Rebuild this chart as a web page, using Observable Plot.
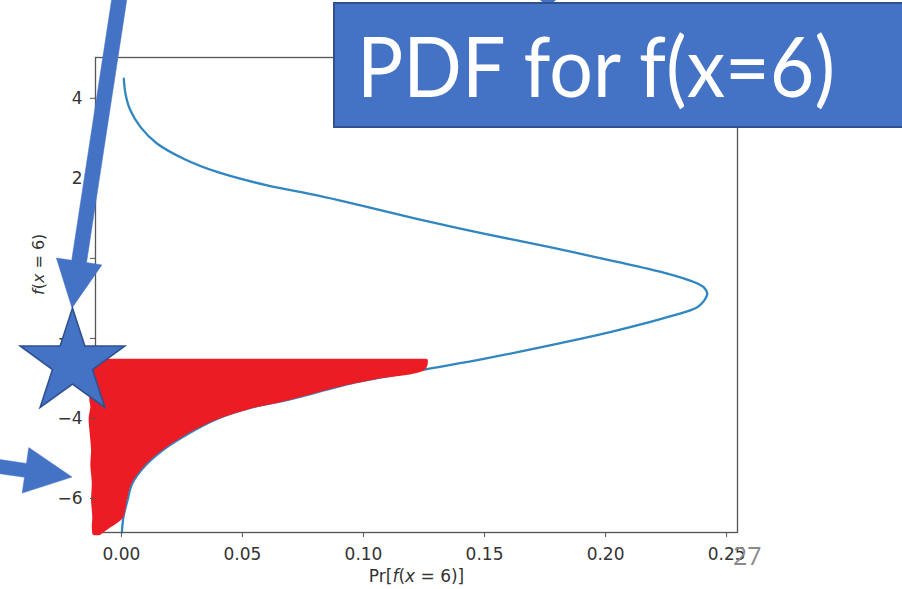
<!DOCTYPE html>
<html><head><meta charset="utf-8">
<script src="https://cdn.jsdelivr.net/npm/d3@7"></script>
<script src="https://cdn.jsdelivr.net/npm/@observablehq/plot@0.6"></script>
<style>
html,body{margin:0;padding:0;background:#fff;}
#wrap{position:relative;width:902px;height:589px;overflow:hidden;}
</style></head><body><div id="wrap"></div>
<script>
// PDF curve: value of f(x=6) and its density
const densityValue = [4.49, 4.11, 3.70, 3.28, 2.87, 2.49, 2.16, 1.825, 1.575, 1.325, 0.99, 0.62, 0.28, -0.09, -0.38, -0.59, -0.72, -0.88, -1.05, -1.22, -1.47, -1.80, -2.175, -2.51, -2.76, -2.97, -3.13, -3.55, -3.725, -4.0, -4.425, -4.8, -5.175, -5.625, -6.05, -6.475, -6.85];
const densityPr = [0.0010, 0.0017, 0.0037, 0.0079, 0.0147, 0.0257, 0.0395, 0.0602, 0.0809, 0.0988, 0.122, 0.1497, 0.177, 0.2048, 0.2255, 0.2365, 0.2405, 0.242, 0.2408, 0.2379, 0.2255, 0.2048, 0.177, 0.1497, 0.1267, 0.108, 0.0946, 0.0678, 0.054, 0.040, 0.0264, 0.0169, 0.0099, 0.0045, 0.0025, 0.0008, 0.0002];

// red sample cloud: its outline (value, left edge, right edge)
const sampleValue = [-2.57, -2.76, -2.97, -3.13, -3.55, -3.725, -4.0, -4.425, -4.8, -5.175, -5.625, -6.05, -6.475, -6.72, -6.88];
const sampleLeft = [-0.0105, -0.0112, -0.0118, -0.0120, -0.0122, -0.0118, -0.0125, -0.0120, -0.0115, -0.0118, -0.0112, -0.0115, -0.0110, -0.0112, -0.0110];
const sampleRight = [0.126, 0.125, 0.106, 0.093, 0.066, 0.053, 0.039, 0.025, 0.0158, 0.0089, 0.0036, 0.0016, 0.0, -0.0055, -0.009];

const xTicks = [0, 0.05, 0.10, 0.15, 0.20, 0.25];
const yTicks = [-6, -4, -2, 0, 2, 4];
const xLabel = "Pr[f(x = 6)]";
const yLabel = "f(x = 6)";
const titleText = "PDF for f(x=6)";
const slideNumber = "27";

// slide annotations (anchored in data units)
const pointerArrows = [
  {from: [-0.0004, 6.57], to: [-0.0202, -1.25], shaft: 15, headWidth: 46, headLength: 47},
  {from: [-0.052, -5.20], to: [-0.0202, -5.476], shaft: 14, headWidth: 46, headLength: 47}
];
const starMarker = {at: [-0.0200, -2.627], outer: 55, inner: 21};

const curve = densityValue.map((v, i) => ({value: v, pr: densityPr[i]}));
const samples = sampleValue.map((v, i) => ({value: v, lo: sampleLeft[i], hi: sampleRight[i]}));

const chart = Plot.plot({
  width: 902, height: 589,
  marginLeft: 95, marginRight: 165, marginTop: 57, marginBottom: 57,
  style: {fontFamily: "'DejaVu Sans', sans-serif", fontSize: "17px", color: "#333", background: "transparent", overflow: "visible"},
  x: {domain: [-0.0107, 0.2545]},
  y: {domain: [-6.85, 5.02]},
  marks: [
    Plot.line(curve, {x: "pr", y: "value", stroke: "#2f86c0", strokeWidth: 2.3, curve: "catmull-rom"}),
    Plot.frame({stroke: "#555", strokeWidth: 1.3}),
    Plot.areaX(samples, {y: "value", x1: "lo", x2: "hi", fill: "#ec1c24", stroke: "#ec1c24", strokeWidth: 4, strokeLinejoin: "round", curve: "catmull-rom"}),
    Plot.axisX({ticks: xTicks, tickFormat: d3.format(".2f"), tickSize: 5, tickPadding: 10, label: null, stroke: "#555"}),
    Plot.axisY({ticks: yTicks, tickSize: 5, tickPadding: 8, label: null, stroke: "#555"}),
    Plot.text([xLabel], {frameAnchor: "bottom", lineAnchor: "middle", dy: 44, text: d => d, fontSize: 17, fill: "#333"}),
    Plot.text([yLabel], {frameAnchor: "left", lineAnchor: "middle", dx: -57, rotate: -90, text: d => d, fontSize: 16, fill: "#333"})
  ]
});
document.getElementById("wrap").appendChild(chart);

const svg = d3.select(chart);
// mathtext-style italics for f and x
function italicize(label, parts) {
  svg.selectAll("text").filter(function() { return this.textContent === label; }).each(function() {
    const t = d3.select(this);
    t.text(null);
    parts.forEach(([s, it]) => t.append("tspan").attr("font-style", it ? "italic" : null).text(s));
  });
}
italicize(xLabel, [["Pr[", 0], ["f", 1], ["(", 0], ["x", 1], [" = 6)]", 0]]);
italicize(yLabel, [["f", 1], ["(", 0], ["x", 1], [" = 6)", 0]]);

const sx = chart.scale("x"), sy = chart.scale("y");
const P = ([a, b]) => [sx.apply(a), sy.apply(b)];
const ov = svg.append("g").attr("text-anchor", "start");
const blue = "#4472c4", blueDark = "#2f528f";

pointerArrows.forEach(a => {
  const [tx, ty] = P(a.from), [px, py] = P(a.to);
  const len = Math.hypot(px - tx, py - ty);
  const ux = (px - tx) / len, uy = (py - ty) / len, nx = -uy, ny = ux;
  const bx = px - a.headLength * ux, by = py - a.headLength * uy;
  const w = a.shaft / 2, W = a.headWidth / 2;
  const pts = [[tx + nx * w, ty + ny * w], [bx + nx * w, by + ny * w], [bx + nx * W, by + ny * W], [px, py],
    [bx - nx * W, by - ny * W], [bx - nx * w, by - ny * w], [tx - nx * w, ty - ny * w]];
  ov.append("polygon").attr("points", pts.map(p => p.join(",")).join(" ")).attr("fill", blue).attr("stroke", blue).attr("stroke-width", 0.5);
});

{
  const [cx, cy] = P(starMarker.at);
  const pts = d3.range(10).map(i => {
    const r = i % 2 ? starMarker.inner : starMarker.outer;
    const ang = -Math.PI / 2 + i * Math.PI / 5;
    return [cx + r * Math.cos(ang), cy + r * Math.sin(ang)];
  });
  ov.append("polygon").attr("points", pts.map(p => p.join(",")).join(" ")).attr("fill", blue).attr("stroke", blueDark).attr("stroke-width", 1.6).attr("stroke-linejoin", "miter");
}

// title box of the slide
ov.append("polygon").attr("points", "540,0 556,0 548,7").attr("fill", blue);
ov.append("rect").attr("x", 334).attr("y", 3).attr("width", 620).attr("height", 124)
  .attr("fill", blue).attr("stroke", blueDark).attr("stroke-width", 2);
ov.append("text").attr("x", 357).attr("y", 97).attr("text-anchor", "start").attr("font-family", "Lato, 'Open Sans', sans-serif")
  .attr("font-size", 84).attr("fill", "#fff").attr("textLength", 478).attr("lengthAdjust", "spacingAndGlyphs")
  .text(titleText);
ov.append("text").attr("x", 733).attr("y", 565).attr("text-anchor", "start").attr("font-family", "'Open Sans', Lato, sans-serif")
  .attr("font-size", 25).attr("fill", "#8a8a8a").text(slideNumber);
</script>
</body></html>
